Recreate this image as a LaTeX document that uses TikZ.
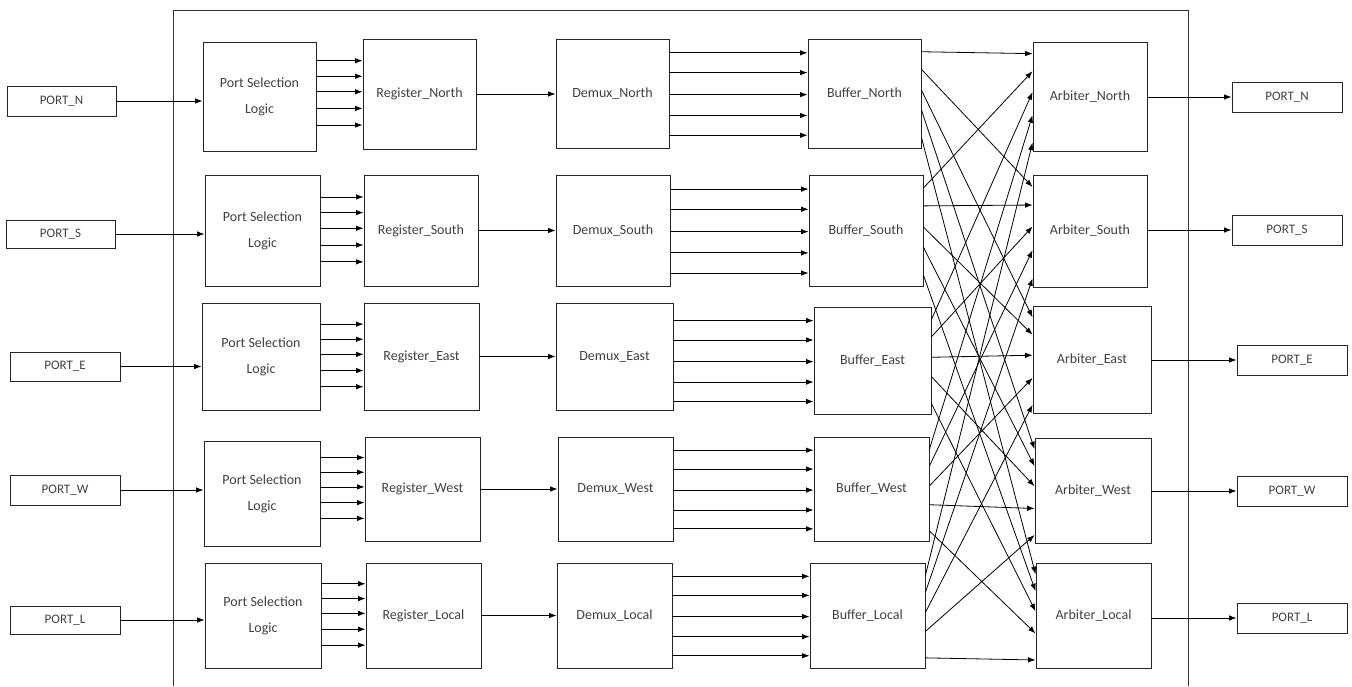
\documentclass[tikz,border=0pt]{standalone}
\usepackage{fontspec}
\setmainfont{Carlito}
\usetikzlibrary{arrows.meta,calc}
\tikzset{
  box/.style={draw=black!85, line width=0.9pt, inner sep=0pt, align=center,
    text=black!75, font=\fontsize{14}{17}\selectfont},
  portbox/.style={box, font=\fontsize{13}{16}\selectfont},
  arr/.style={-{Latex[length=7.5pt,width=5.5pt]}, line width=0.8pt},
  frame/.style={line width=1pt, draw=black!80}
}
\newcommand\bx[7][box]{\node[#1, minimum width={(#5-#3)*1pt}, minimum height={(#6-#4)*1pt}] (#2) at ({(#3+#5)/2},{(#4+#6)/2}) {#7};}
\begin{document}
\begin{tikzpicture}[x=1pt,y=-1pt]
\useasboundingbox (0,0) rectangle (1352,686);
\draw[frame] (173,686) -- (173,10) -- (1188,10) -- (1188,686);
% row North
\bx[portbox]{pn}{7}{86}{116}{116}{PORT\_N}
\bx{p1}{203}{42}{316}{151}{Port Selection\\[9pt]Logic}
\bx{r1}{363}{39}{476}{149}{Register\_North}
\bx{d1}{556}{39}{669}{148}{Demux\_North}
\bx{b1}{808}{39}{921}{148}{Buffer\_North}
\bx{a1}{1033}{42}{1147}{151}{Arbiter\_North}
\bx[portbox]{on}{1232}{82}{1342}{112}{PORT\_N}
% row South
\bx[portbox]{ps}{6}{220}{115}{248}{PORT\_S}
\bx{p2}{205}{175}{320}{286}{Port Selection\\[9pt]Logic}
\bx{r2}{364}{175}{478}{286}{Register\_South}
\bx{d2}{556}{175}{670}{286}{Demux\_South}
\bx{b2}{809}{175}{923}{286}{Buffer\_South}
\bx{a2}{1033}{175}{1147}{287}{Arbiter\_South}
\bx[portbox]{os}{1232}{215}{1342}{245}{PORT\_S}
% row East
\bx[portbox]{pe}{10}{352}{120}{381}{PORT\_E}
\bx{p3}{202}{303}{320}{410}{Port Selection\\[9pt]Logic}
\bx{r3}{364}{303}{479}{410}{Register\_East}
\bx{d3}{556}{303}{673}{410}{Demux\_East}
\bx{b3}{814}{307}{931}{414}{Buffer\_East}
\bx{a3}{1033}{306}{1151}{413}{Arbiter\_East}
\bx[portbox]{oe}{1237}{345}{1347}{375}{PORT\_E}
% row West
\bx[portbox]{pw}{10}{475}{120}{505}{PORT\_W}
\bx{p4}{204}{441}{320}{546}{Port Selection\\[9pt]Logic}
\bx{r4}{365}{437}{480}{541}{Register\_West}
\bx{d4}{558}{437}{673}{541}{Demux\_West}
\bx{b4}{814}{437}{929}{541}{Buffer\_West}
\bx{a4}{1035}{438}{1151}{543}{Arbiter\_West}
\bx[portbox]{ow}{1237}{476}{1347}{506}{PORT\_W}
% row Local
\bx[portbox]{pl}{10}{606}{120}{634}{PORT\_L}
\bx{p5}{205}{563}{321}{668}{Port Selection\\[9pt]Logic}
\bx{r5}{366}{563}{481}{668}{Register\_Local}
\bx{d5}{557}{563}{672}{668}{Demux\_Local}
\bx{b5}{810}{563}{925}{668}{Buffer\_Local}
\bx{a5}{1036}{563}{1151}{668}{Arbiter\_Local}
\bx[portbox]{ol}{1237}{603}{1347}{633}{PORT\_L}
% single arrows
\foreach \inp/\rr/\out in {pn/1/on, ps/2/os, pe/3/oe, pw/4/ow, pl/5/ol}{
  \draw[arr] (\inp.east) -- (p\rr.west |- \inp.east);
  \draw[arr] (r\rr.east) -- (d\rr.west |- r\rr.east);
  \draw[arr] (a\rr.east |- \out.west) -- (\out.west);
  \foreach \ff in {0.2,0.34,0.48,0.63,0.78}{
    \coordinate (t) at ($(r\rr.north west)!\ff!(r\rr.south west)$);
    \draw[arr] (p\rr.east |- t) -- (t);
  }
  \foreach \ff in {0.13,0.31,0.51,0.7,0.88}{
    \coordinate (t) at ($(b\rr.north west)!\ff!(b\rr.south west)$);
    \draw[arr] (d\rr.east |- t) -- (t);
  }
}
% crossbar
\foreach \kk in {1,...,5}{
  \foreach \mm in {1,...,5}{
    \pgfmathsetmacro\fout{{0.12,0.28,0.47,0.65,0.9}[\mm-1]}
    \pgfmathsetmacro\fin{{0.11,0.27,0.46,0.67,0.92}[\kk-1]}
    \draw[arr] ($(b\kk.north east)!\fout!(b\kk.south east)$) -- ($(a\mm.north west)!\fin!(a\mm.south west)$);
  }
}
\end{tikzpicture}
\end{document}
